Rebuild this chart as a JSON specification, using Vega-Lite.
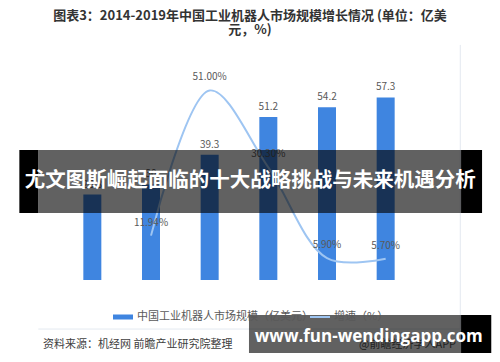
{
  "$schema": "https://vega.github.io/schema/vega-lite/v6.json",
  "width": 352,
  "height": 223,
  "autosize": "none",
  "padding": {"left": 63, "top": 57, "right": 85, "bottom": 82},
  "background": "white",
  "config": {
    "font": "Noto Sans CJK SC",
    "view": {"stroke": null},
    "axis": {"grid": false, "ticks": false, "domain": false, "labelColor": "#595959", "labelFontSize": 10, "labelPadding": 8}
  },
  "title": {
    "text": ["图表3：2014-2019年中国工业机器人市场规模增长情况 (单位：亿美", "元，%)"],
    "fontSize": 13, "fontWeight": "bold", "color": "#333333",
    "anchor": "middle", "frame": "group", "dx": 11, "offset": 7, "lineHeight": 14
  },
  "datasets": {
    "market": [
      {"year": 2014, "value": 26.8, "label": "26.8"},
      {"year": 2015, "value": 30, "label": "30"},
      {"year": 2016, "value": 39.3, "label": "39.3"},
      {"year": 2017, "value": 51.2, "label": "51.2"},
      {"year": 2018, "value": 54.2, "label": "54.2"},
      {"year": 2019, "value": 57.3, "label": "57.3"}
    ],
    "growth": [
      {"year": 2015, "rate": 0.1194},
      {"year": 2016, "rate": 0.51},
      {"year": 2017, "rate": 0.303},
      {"year": 2018, "rate": 0.059},
      {"year": 2019, "rate": 0.057}
    ]
  },
  "layer": [
    {
      "data": {"name": "market"},
      "layer": [
        {
          "mark": {"type": "bar", "width": 18},
          "encoding": {
            "x": {"field": "year", "type": "quantitative", "title": null,
              "scale": {"domain": [2013.5, 2019.5], "nice": false, "zero": false, "padding": 0},
              "axis": {"values": [2014, 2015, 2016, 2017, 2018, 2019], "format": "d", "domain": true, "domainColor": "#d9d9d9", "labelPadding": 7}},
            "y": {"field": "value", "type": "quantitative", "title": null,
              "scale": {"domain": [0, 70], "nice": false},
              "axis": {"values": [0, 10, 20, 30, 40, 50, 60, 70], "orient": "left"}},
            "color": {"datum": "中国工业机器人市场规模（亿美元）",
              "scale": {"range": ["#3f85e0"]},
              "legend": {"orient": "none", "legendX": 49, "legendY": 249, "title": null,
                "symbolType": "M-1,-0.25H1V0.25H-1Z", "symbolSize": 400,
                "labelFontSize": 11, "labelColor": "#595959", "labelOffset": 3, "labelLimit": 400}}
          }
        },
        {
          "mark": {"type": "text", "baseline": "middle", "dy": -10, "fontSize": 10, "color": "#595959"},
          "encoding": {
            "x": {"field": "year", "type": "quantitative", "title": null, "axis": null,
              "scale": {"domain": [2013.5, 2019.5], "nice": false, "zero": false, "padding": 0}},
            "y": {"field": "value", "type": "quantitative", "title": null, "axis": null,
              "scale": {"domain": [0, 70], "nice": false}},
            "text": {"field": "label", "type": "nominal"}
          }
        }
      ]
    },
    {
      "data": {"name": "growth"},
      "layer": [
        {
          "mark": {"type": "line", "interpolate": "catmull-rom", "strokeWidth": 2},
          "encoding": {
            "x": {"field": "year", "type": "quantitative", "title": null, "axis": null,
              "scale": {"domain": [2013.5, 2019.5], "nice": false, "zero": false, "padding": 0}},
            "y": {"field": "rate", "type": "quantitative", "title": null,
              "scale": {"domain": [0, 0.6], "nice": false},
              "axis": {"orient": "right", "format": ".0%", "values": [0, 0.1, 0.2, 0.3, 0.4, 0.5, 0.6]}},
            "color": {"datum": "增速（%）",
              "scale": {"range": ["#9ec5f2"]},
              "legend": {"orient": "none", "legendX": 246, "legendY": 249, "title": null,
                "symbolType": "stroke", "symbolSize": 400, "symbolStrokeWidth": 2,
                "labelFontSize": 11, "labelColor": "#595959", "labelOffset": 3, "labelLimit": 400}}
          }
        },
        {
          "mark": {"type": "text", "baseline": "middle", "dy": -13, "fontSize": 10, "color": "#595959"},
          "encoding": {
            "x": {"field": "year", "type": "quantitative", "title": null, "axis": null,
              "scale": {"domain": [2013.5, 2019.5], "nice": false, "zero": false, "padding": 0}},
            "y": {"field": "rate", "type": "quantitative", "title": null, "axis": null,
              "scale": {"domain": [0, 0.6], "nice": false}},
            "text": {"field": "rate", "type": "quantitative", "format": ".2%"}
          }
        }
      ]
    },
    {
      "layer": [
        {
          "data": {"values": [{"x0": 2013.079, "x1": 2020.272, "y0": -15.4}]},
          "mark": {"type": "rule", "color": "#e3e9f0", "strokeWidth": 1, "clip": false},
          "encoding": {
            "x": {"field": "x0", "type": "quantitative", "title": null, "axis": null,
              "scale": {"domain": [2013.5, 2019.5], "nice": false, "zero": false, "padding": 0}},
            "x2": {"field": "x1"},
            "y": {"field": "y0", "type": "quantitative", "title": null, "axis": null,
              "scale": {"domain": [0, 70], "nice": false}}
          }
        },
        {
          "data": {"values": [{"x0": 2020.272, "y0": 73.8, "y1": -15.4}]},
          "mark": {"type": "rule", "color": "#e3e9f0", "strokeWidth": 1, "clip": false},
          "encoding": {
            "x": {"field": "x0", "type": "quantitative", "title": null, "axis": null,
              "scale": {"domain": [2013.5, 2019.5], "nice": false, "zero": false, "padding": 0}},
            "y": {"field": "y0", "type": "quantitative", "title": null, "axis": null,
              "scale": {"domain": [0, 70], "nice": false}},
            "y2": {"field": "y1"}
          }
        },
        {
          "data": {"values": [{"x0": 2013.16, "y0": -20.4, "note": "资料来源：机经网 前瞻产业研究院整理"}]},
          "mark": {"type": "text", "align": "left", "baseline": "middle", "fontSize": 11, "color": "#404040", "clip": false},
          "encoding": {
            "x": {"field": "x0", "type": "quantitative", "title": null, "axis": null,
              "scale": {"domain": [2013.5, 2019.5], "nice": false, "zero": false, "padding": 0}},
            "y": {"field": "y0", "type": "quantitative", "title": null, "axis": null,
              "scale": {"domain": [0, 70], "nice": false}},
            "text": {"field": "note", "type": "nominal"}
          }
        },
        {
          "data": {"values": [{"x0": 2020.2, "y0": -20.4, "note": "@前瞻经济学人APP"}]},
          "mark": {"type": "text", "align": "right", "baseline": "middle", "fontSize": 11, "color": "#595959", "clip": false},
          "encoding": {
            "x": {"field": "x0", "type": "quantitative", "title": null, "axis": null,
              "scale": {"domain": [2013.5, 2019.5], "nice": false, "zero": false, "padding": 0}},
            "y": {"field": "y0", "type": "quantitative", "title": null, "axis": null,
              "scale": {"domain": [0, 70], "nice": false}},
            "text": {"field": "note", "type": "nominal"}
          }
        },
        {
          "data": {"values": [
            {"x0": 2012.756, "x1": 2013.079, "y0": 21.0, "y1": 40.8},
            {"x0": 2020.285, "x1": 2020.643, "y0": 21.0, "y1": 40.8},
            {"x0": 2020.285, "x1": 2020.80, "y0": -11.0, "y1": -22.9}
          ]},
          "mark": {"type": "rect", "color": "black", "clip": false},
          "encoding": {
            "x": {"field": "x0", "type": "quantitative", "title": null, "axis": null,
              "scale": {"domain": [2013.5, 2019.5], "nice": false, "zero": false, "padding": 0}},
            "x2": {"field": "x1"},
            "y": {"field": "y0", "type": "quantitative", "title": null, "axis": null,
              "scale": {"domain": [0, 70], "nice": false}},
            "y2": {"field": "y1"}
          }
        },
        {
          "data": {"values": [
            {"x0": 2013.079, "x1": 2020.285, "y0": 21.0, "y1": 40.8},
            {"x0": 2016.67, "x1": 2020.285, "y0": -11.0, "y1": -22.9}
          ]},
          "mark": {"type": "rect", "color": "black", "opacity": 0.62, "clip": false},
          "encoding": {
            "x": {"field": "x0", "type": "quantitative", "title": null, "axis": null,
              "scale": {"domain": [2013.5, 2019.5], "nice": false, "zero": false, "padding": 0}},
            "x2": {"field": "x1"},
            "y": {"field": "y0", "type": "quantitative", "title": null, "axis": null,
              "scale": {"domain": [0, 70], "nice": false}},
            "y2": {"field": "y1"}
          }
        },
        {
          "data": {"values": [{"x0": 2016.69, "y0": 31.07, "note": "尤文图斯崛起面临的十大战略挑战与未来机遇分析"}]},
          "mark": {"type": "text", "align": "center", "baseline": "middle", "fontSize": 20.5, "fontWeight": "bold", "color": "white", "clip": false},
          "encoding": {
            "x": {"field": "x0", "type": "quantitative", "title": null, "axis": null,
              "scale": {"domain": [2013.5, 2019.5], "nice": false, "zero": false, "padding": 0}},
            "y": {"field": "y0", "type": "quantitative", "title": null, "axis": null,
              "scale": {"domain": [0, 70], "nice": false}},
            "text": {"field": "note", "type": "nominal"}
          }
        },
        {
          "data": {"values": [{"x0": 2018.712, "y0": -19.5, "note": "www.fun-wendingapp.com"}]},
          "mark": {"type": "text", "align": "center", "baseline": "alphabetic", "fontSize": 17, "fontWeight": "bold", "font": "Open Sans", "color": "white", "clip": false},
          "encoding": {
            "x": {"field": "x0", "type": "quantitative", "title": null, "axis": null,
              "scale": {"domain": [2013.5, 2019.5], "nice": false, "zero": false, "padding": 0}},
            "y": {"field": "y0", "type": "quantitative", "title": null, "axis": null,
              "scale": {"domain": [0, 70], "nice": false}},
            "text": {"field": "note", "type": "nominal"}
          }
        }
      ]
    }
  ],
  "resolve": {"scale": {"y": "independent", "color": "independent"}}
}
